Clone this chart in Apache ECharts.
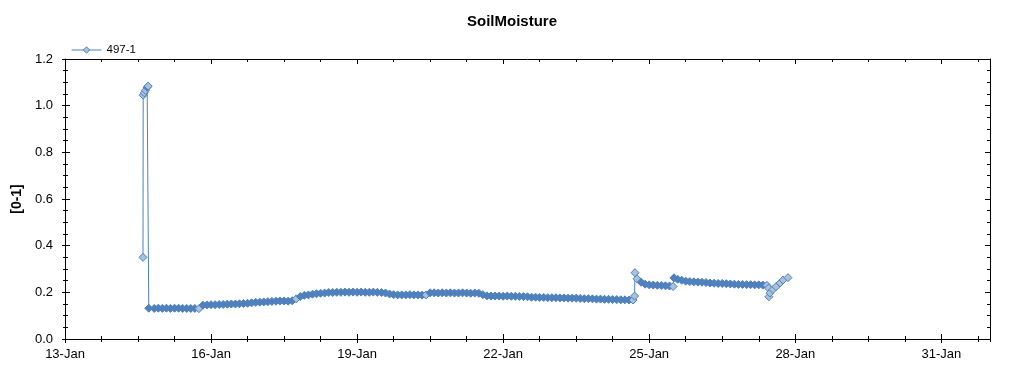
<!DOCTYPE html>
<html>
<head>
<meta charset="utf-8">
<script src="https://cdn.jsdelivr.net/npm/echarts@6/dist/echarts.min.js"></script>
<style>html,body{margin:0;padding:0;background:#fff;}#chart{width:1024px;height:375px;}</style>
</head>
<body>
<div id="chart"></div>
<script>
// ---- data ----
const chartTitle = 'SoilMoisture';
const seriesName = '497-1';
const yAxisName = '[0-1]';
const monthLabel = 'Jan';
const axisStartDay = 13;   // 13-Jan
const axisEndDay = 32;     // 1-Feb
// readings: [day of January, hour of day, soil moisture]
const readingsSpike = [
  [14, 14.45, 0.350], [14, 14.55, 1.045], [14, 15.1, 1.055], [14, 15.7, 1.066],
  [14, 16.5, 1.079], [14, 17.0, 1.084]
];
const readingsJan14to17 = [
  [14, 17.3, 0.132], [14, 20, 0.131], [14, 22, 0.132],
  [15, 0, 0.131], [15, 2, 0.132], [15, 4, 0.131], [15, 6, 0.132], [15, 8, 0.132], [15, 10, 0.131],
  [15, 12, 0.131], [15, 14, 0.131], [15, 16, 0.131], [15, 18, 0.130], [15, 20, 0.145], [15, 22, 0.146],
  [16, 0, 0.147], [16, 2, 0.147], [16, 4, 0.148], [16, 6, 0.148], [16, 8, 0.149], [16, 10, 0.150],
  [16, 12, 0.150], [16, 14, 0.151], [16, 16, 0.152], [16, 18, 0.153], [16, 20, 0.155], [16, 22, 0.157],
  [17, 0, 0.158], [17, 2, 0.159], [17, 4, 0.160], [17, 6, 0.161], [17, 8, 0.162], [17, 10, 0.163],
  [17, 12, 0.163], [17, 14, 0.162], [17, 16, 0.164], [17, 18, 0.172], [17, 20, 0.182], [17, 22, 0.187]
];
const readingsJan18to21 = [
  [18, 0, 0.189], [18, 2, 0.192], [18, 4, 0.194], [18, 6, 0.196], [18, 8, 0.197], [18, 10, 0.199],
  [18, 12, 0.199], [18, 14, 0.200], [18, 16, 0.200], [18, 18, 0.201], [18, 20, 0.200], [18, 22, 0.201],
  [19, 0, 0.200], [19, 2, 0.201], [19, 4, 0.200], [19, 6, 0.200], [19, 8, 0.201], [19, 10, 0.200],
  [19, 12, 0.199], [19, 14, 0.197], [19, 16, 0.193], [19, 18, 0.190], [19, 20, 0.189], [19, 22, 0.189],
  [20, 0, 0.189], [20, 2, 0.190], [20, 4, 0.189], [20, 6, 0.189], [20, 8, 0.188], [20, 10, 0.189],
  [20, 12, 0.198], [20, 14, 0.198], [20, 16, 0.197], [20, 18, 0.198], [20, 20, 0.197], [20, 22, 0.198],
  [21, 0, 0.197], [21, 2, 0.197], [21, 4, 0.198], [21, 6, 0.197], [21, 8, 0.196], [21, 10, 0.197],
  [21, 12, 0.196], [21, 14, 0.190], [21, 16, 0.185], [21, 18, 0.184], [21, 20, 0.184], [21, 22, 0.184]
];
const readingsJan22to24 = [
  [22, 0, 0.183], [22, 2, 0.184], [22, 4, 0.183], [22, 6, 0.183], [22, 8, 0.182], [22, 10, 0.182],
  [22, 12, 0.181], [22, 14, 0.179], [22, 16, 0.179], [22, 18, 0.178], [22, 20, 0.178], [22, 22, 0.177],
  [23, 0, 0.177], [23, 2, 0.177], [23, 4, 0.176], [23, 6, 0.176], [23, 8, 0.175], [23, 10, 0.175],
  [23, 12, 0.175], [23, 14, 0.174], [23, 16, 0.173], [23, 18, 0.173], [23, 20, 0.172], [23, 22, 0.171],
  [24, 0, 0.171], [24, 2, 0.170], [24, 4, 0.170], [24, 6, 0.169], [24, 8, 0.169], [24, 10, 0.168],
  [24, 12, 0.168], [24, 14, 0.167], [24, 16, 0.167], [24, 16.8, 0.184], [24, 17.0, 0.284],
  [24, 18, 0.258], [24, 20, 0.243], [24, 22, 0.235]
];
const readingsJan25to27 = [
  [25, 0, 0.232], [25, 2, 0.231], [25, 4, 0.230], [25, 6, 0.229], [25, 8, 0.228], [25, 10, 0.227],
  [25, 11.8, 0.225], [25, 12.2, 0.262], [25, 14, 0.256], [25, 16, 0.252], [25, 18, 0.248], [25, 20, 0.246], [25, 22, 0.245],
  [26, 0, 0.244], [26, 2, 0.243], [26, 4, 0.242], [26, 6, 0.240], [26, 8, 0.239], [26, 10, 0.238],
  [26, 12, 0.238], [26, 14, 0.237], [26, 16, 0.236], [26, 18, 0.235], [26, 20, 0.234], [26, 22, 0.234],
  [27, 0, 0.233], [27, 2, 0.233], [27, 4, 0.232], [27, 6, 0.232], [27, 8, 0.231], [27, 10, 0.230],
  [27, 10.8, 0.218], [27, 11.0, 0.181], [27, 11.5, 0.197], [27, 13, 0.212], [27, 14.5, 0.224],
  [27, 16.5, 0.240], [27, 18, 0.253], [27, 20.4, 0.263]
];
const yTickLabels = ['0.0', '0.2', '0.4', '0.6', '0.8', '1.0', '1.2'];

// ---- styling / chart ----
const FONT = 'Liberation Sans, Arial, sans-serif';
const BLUE = '#4f81bd';
const LIGHT = '#a9c2dc';

const readings = [].concat(readingsSpike, readingsJan14to17, readingsJan18to21, readingsJan22to24, readingsJan25to27);
const seriesData = readings.map((r, i) => {
  const x = r[0] - axisStartDay + r[1] / 24;
  const next = readings[i + 1];
  const isolated = !next || Math.abs(next[2] - r[2]) > 0.009;
  const item = { value: [x, r[2]] };
  if (isolated) item.itemStyle = { color: LIGHT };
  return item;
});

const xSpan = axisEndDay - axisStartDay;
function xLabel(v) {
  const r = Math.round(v);
  if (Math.abs(v - r) > 1e-6 || r % 3 !== 0 || r >= xSpan) return '';
  return (axisStartDay + r) + '-' + monthLabel;
}
function yLabel(v) {
  const i = Math.round(v / 0.2);
  return (Math.abs(v - i * 0.2) < 1e-6) ? yTickLabels[i] : '';
}

function xAx(pos, interval, inside, len, opts) {
  return Object.assign({
    type: 'value', min: 0, max: xSpan, interval: interval, position: pos,
    axisLine: { show: false, onZero: false, lineStyle: { color: '#000', width: 1 } },
    axisTick: { show: true, inside: inside, length: len, lineStyle: { color: '#000', width: 1 } },
    axisLabel: { show: false }, splitLine: { show: false }
  }, opts || {});
}
function yAx(pos, interval, inside, len, opts) {
  return Object.assign({
    type: 'value', min: 0, max: 1.2, interval: interval, position: pos,
    axisLine: { show: false, onZero: false, lineStyle: { color: '#000', width: 1 } },
    axisTick: { show: true, inside: inside, length: len, lineStyle: { color: '#000', width: 1 } },
    axisLabel: { show: false }, splitLine: { show: false }
  }, opts || {});
}

const chart = echarts.init(document.getElementById('chart'), null, { renderer: 'canvas' });
chart.setOption({
  animation: false,
  backgroundColor: '#fff',
  title: {
    text: chartTitle, left: 'center', top: 9,
    textStyle: { fontFamily: FONT, fontSize: 15, fontWeight: 'bold', color: '#000' }
  },
  legend: {
    left: 66, top: 39, itemWidth: 30, itemHeight: 8, itemGap: 10,
    textStyle: { fontFamily: FONT, fontSize: 11.5, color: '#000' },
    data: [{ name: seriesName, itemStyle: { color: LIGHT, borderColor: BLUE, borderWidth: 1 }, lineStyle: { color: BLUE, width: 1 } }]
  },
  grid: { left: 65, right: 34, top: 59, bottom: 36 },
  xAxis: [
    xAx('bottom', 3, false, 4, {
      axisLine: { show: true, onZero: false, lineStyle: { color: '#000', width: 1 } },
      axisLabel: { show: true, formatter: xLabel, margin: 9, fontFamily: FONT, fontSize: 13, color: '#000', showMaxLabel: false }
    }),
    xAx('bottom', 3, true, 5),
    xAx('bottom', 0.75, false, 3),
    xAx('bottom', 0.75, true, 3),
    xAx('top', 3, true, 5, { axisLine: { show: true, onZero: false, lineStyle: { color: '#000', width: 1 } } }),
    xAx('top', 0.75, true, 3)
  ],
  yAxis: [
    yAx('left', 0.2, false, 3, {
      axisLine: { show: true, onZero: false, lineStyle: { color: '#000', width: 1 } },
      axisLabel: { show: true, formatter: yLabel, margin: 12, fontFamily: FONT, fontSize: 13, color: '#000' },
      name: yAxisName, nameLocation: 'middle', nameGap: 40,
      nameTextStyle: { fontFamily: FONT, fontSize: 14, fontWeight: 'bold', color: '#000' }
    }),
    yAx('left', 0.2, true, 5),
    yAx('left', 0.05, false, 2),
    yAx('left', 0.05, true, 3),
    yAx('right', 0.2, true, 5, { axisLine: { show: true, onZero: false, lineStyle: { color: '#000', width: 1 } } }),
    yAx('right', 0.05, true, 3)
  ],
  series: [{
    name: seriesName, type: 'line', xAxisIndex: 0, yAxisIndex: 0,
    data: seriesData,
    symbol: 'diamond', symbolSize: 8, showSymbol: true, showAllSymbol: true,
    sampling: null, connectNulls: false,
    lineStyle: { color: BLUE, width: 1 },
    itemStyle: { color: BLUE, borderColor: BLUE, borderWidth: 1 },
    emphasis: { disabled: true },
    z: 5
  }]
});
</script>
</body>
</html>
